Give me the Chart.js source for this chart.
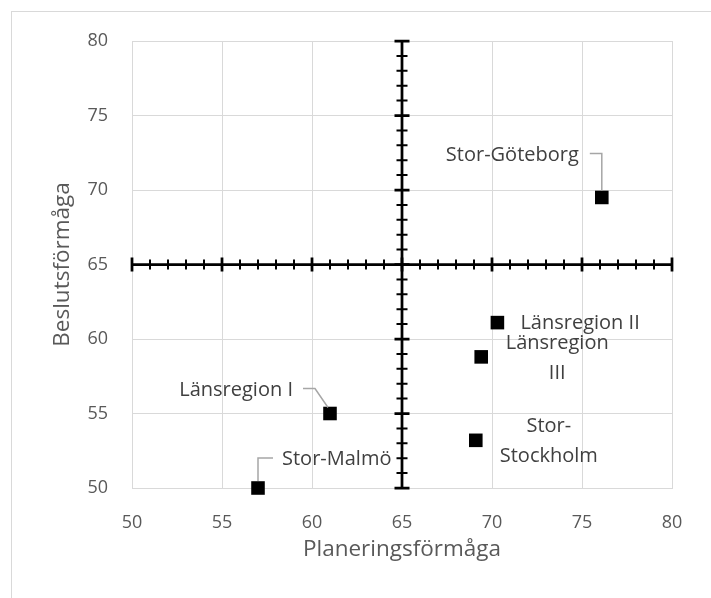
<!DOCTYPE html>
<html>
<head>
<meta charset="utf-8">
<script src="https://cdn.jsdelivr.net/npm/chart.js@4/dist/chart.umd.min.js"></script>
<style>
	html, body { margin: 0; padding: 0; background: #fff; }
	#wrap { width: 711px; height: 598px; position: relative; }
</style>
</head>
<body>
<div id="wrap"><canvas id="chart-quadrant"></canvas></div>
<script>
// Data
const REGIONS = ["Stor-Göteborg", "Länsregion II", "Länsregion III", "Stor-Stockholm", "Länsregion I", "Stor-Malmö"];
const PLANERING = [76.1, 70.3, 69.4, 69.1, 61.0, 57.0];
const BESLUT = [69.5, 61.1, 58.8, 53.2, 55.0, 50.0];
const AXIS_MIN = 50;
const AXIS_MAX = 80;
const AXIS_STEP = 5;
const CROSS_AT = 65;

// Label placement (pixel offsets from the marker)
const LABEL_LAYOUT = [
	{ dx: -23, dy: -42, align: "right", leader: [[-12, -44], [0, -44], [0, -7]] },
	{ dx: 23, dy: 1, align: "left" },
	{ dx: 76, dy: -14, align: "center", wrap: true },
	{ dx: 73, dy: -14, align: "center", wrap: true },
	{ dx: -37, dy: -23, align: "right", leader: [[-27, -25], [-15, -25], [-2, -6]] },
	{ dx: 24, dy: -29, align: "left", leader: [[15, -30], [0, -30], [0, -7]] },
];

const FONT = "'Open Sans', 'Noto Sans', sans-serif";
const GRID = "#d9d9d9";
const TEXT = "#595959";

const WRAPPER = document.getElementById("chart-quadrant");

// Outer frame
const framePlugin = {
	id: "frame",
	beforeDraw(chart) {
		const { ctx } = chart;
		ctx.save();
		ctx.fillStyle = "#fff";
		ctx.fillRect(0, 0, chart.width, chart.height);
		ctx.strokeStyle = GRID;
		ctx.lineWidth = 1;
		ctx.strokeRect(11.5, 11.5, chart.width + 20, chart.height + 20);
		ctx.restore();
	},
};

// Axes crossing at 65/65 with cross tick marks
const crossAxesPlugin = {
	id: "crossAxes",
	beforeDatasetsDraw(chart) {
		const { ctx, scales: { x, y } } = chart;
		const cx = x.getPixelForValue(CROSS_AT);
		const cy = y.getPixelForValue(CROSS_AT);
		ctx.save();
		ctx.strokeStyle = "#000";
		ctx.lineCap = "butt";

		ctx.lineWidth = 2.75;
		ctx.beginPath();
		ctx.moveTo(x.getPixelForValue(AXIS_MIN), cy);
		ctx.lineTo(x.getPixelForValue(AXIS_MAX), cy);
		ctx.moveTo(cx, y.getPixelForValue(AXIS_MIN));
		ctx.lineTo(cx, y.getPixelForValue(AXIS_MAX));
		ctx.stroke();

		for (let v = AXIS_MIN; v <= AXIS_MAX; v++) {
			const major = v % AXIS_STEP === 0;
			const len = major ? 7 : 5;
			ctx.lineWidth = major ? 2.75 : 2;
			const px = x.getPixelForValue(v);
			const py = y.getPixelForValue(v);
			ctx.beginPath();
			ctx.moveTo(px, cy - len);
			ctx.lineTo(px, cy + len);
			ctx.moveTo(cx - len - 0.5, py);
			ctx.lineTo(cx + len + 0.5, py);
			ctx.stroke();
		}
		ctx.restore();
	},
};

// Point labels and leader lines
const labelPlugin = {
	id: "pointLabels",
	afterDatasetsDraw(chart) {
		const { ctx } = chart;
		const meta = chart.getDatasetMeta(0);
		ctx.save();
		ctx.font = `20px ${FONT}`;
		ctx.fillStyle = "#404040";
		ctx.textBaseline = "middle";
		meta.data.forEach((pt, i) => {
			const lay = LABEL_LAYOUT[i];
			if (lay.leader) {
				ctx.strokeStyle = "#a6a6a6";
				ctx.lineWidth = 1.5;
				ctx.beginPath();
				lay.leader.forEach(([lx, ly], k) => {
					if (k === 0) ctx.moveTo(pt.x + lx, pt.y + ly);
					else ctx.lineTo(pt.x + lx, pt.y + ly);
				});
				ctx.stroke();
			}
			const lines = lay.wrap ? REGIONS[i].split(/(?<=-)|\s+/) : [REGIONS[i]];
			ctx.textAlign = lay.align;
			lines.forEach((line, k) => {
				ctx.fillText(line, pt.x + lay.dx, pt.y + lay.dy + k * 30);
			});
		});
		ctx.restore();
	},
};

const DATA = {
	datasets: [
		{
			label: "Regioner",
			data: PLANERING.map((v, i) => ({ x: v, y: BESLUT[i] })),
			pointStyle: "rect",
			pointRadius: 9.6,
			pointHoverRadius: 9.6,
			backgroundColor: "#000",
			borderColor: "#000",
			borderWidth: 0,
			clip: false,
		},
	],
};

const axis = (title, fit, titlePadding) => ({
	type: "linear",
	min: AXIS_MIN,
	max: AXIS_MAX,
	afterFit: fit,
	ticks: {
		stepSize: AXIS_STEP,
		padding: 24,
		color: TEXT,
		font: { family: FONT, size: 18 },
	},
	grid: {
		color: GRID,
		lineWidth: 1,
		drawTicks: false,
	},
	border: { display: true, color: GRID, width: 1 },
	title: {
		display: true,
		text: title,
		color: TEXT,
		font: { family: FONT, size: 22.5 },
		padding: titlePadding,
	},
});

// Chart config
const CONFIG = {
	type: "scatter",
	data: DATA,
	options: {
		responsive: true,
		maintainAspectRatio: false,
		animation: false,
		layout: { padding: { top: 41, right: 39, left: 0, bottom: 0 } },
		scales: {
			x: axis("Planeringsförmåga", (s) => { s.height = 110; }, { top: 0, bottom: 34.5 }),
			y: axis("Beslutsförmåga", (s) => { s.width = 132; }, { top: 49.5, bottom: 0 }),
		},
		plugins: {
			legend: { display: false },
			tooltip: { enabled: false },
		},
	},
	plugins: [framePlugin, crossAxesPlugin, labelPlugin],
};

// Init chart
if (WRAPPER) {
	new Chart(WRAPPER, CONFIG);
}
</script>
</body>
</html>
